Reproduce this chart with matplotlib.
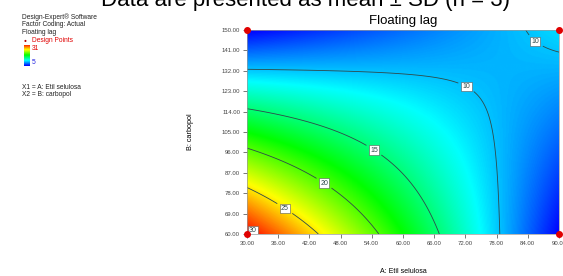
import matplotlib
matplotlib.use("Agg")
import matplotlib.pyplot as plt
import numpy as np
from matplotlib.colors import LinearSegmentedColormap

plt.rcParams["font.family"] = ["Liberation Sans", "DejaVu Sans"]

# factor ranges (A: Etil selulosa, B: carbopol)
a_range = [30.0, 90.0]
b_range = [60.0, 150.0]
x_ticks = [30, 36, 42, 48, 54, 60, 66, 72, 78, 84, 90]
y_ticks = [60, 69, 78, 87, 96, 105, 114, 123, 132, 141, 150]

# 2FI model in actual units: intercept, A, B, AB
model_coefs = [71.51, -0.7785, -0.4619, 0.00581]
contour_levels = [10, 15, 20, 25, 30]
# where the contour labels sit (A, B)
label_positions = [(72.7, 127.1), (85.8, 146.0), (54.8, 98.4),
                   (45.2, 83.8), (37.7, 72.8), (31.5, 62.7)]
design_a = [30, 30, 90, 90]
design_b = [60, 150, 60, 150]
resp_min, resp_max = 5, 31

de_cmap = LinearSegmentedColormap.from_list(
    "de", ["#0000ff", "#00ffff", "#00ff00", "#ffff00", "#ff0000"])


def response(a, b):
    b0, b1, b2, b12 = model_coefs
    return b0 + b1 * a + b2 * b + b12 * a * b


fig = plt.figure(figsize=(5.63, 2.76), dpi=100)
ax = fig.add_axes([247 / 563, 1 - 234 / 276, 312 / 563, 204 / 276])

aa, bb = np.meshgrid(np.linspace(*a_range, 300), np.linspace(*b_range, 300))
zz = response(aa, bb)
ax.imshow(zz, origin="lower", extent=a_range + b_range, aspect="auto",
          cmap=de_cmap, vmin=resp_min, vmax=resp_max, interpolation="bilinear")
cs = ax.contour(aa, bb, zz, levels=contour_levels, colors="#2e4a4a",
                linewidths=0.6)
labels = ax.clabel(cs, fmt="%d", fontsize=5, manual=label_positions,
                   inline=True, inline_spacing=5)
for t in labels:
    t.set_rotation(0)
    t.set_bbox(dict(facecolor="white", edgecolor="#555555", linewidth=0.4,
                    pad=0.9))

ax.plot(design_a, design_b, "o", color="#e00000", markersize=4,
        clip_on=False, zorder=10)

ax.set_xlim(a_range)
ax.set_ylim(b_range)
ax.set_xticks(x_ticks)
ax.set_yticks(y_ticks)
ax.set_xticklabels([f"{v:.2f}" for v in x_ticks])
ax.set_yticklabels([f"{v:.2f}" for v in y_ticks])
ax.tick_params(labelsize=4.3, colors="#444444", length=3, width=0.5, pad=2)
for sp in ax.spines.values():
    sp.set_color("#999999")
    sp.set_linewidth(0.5)

ax.set_title("Floating lag", fontsize=9.5, pad=4)
ax.set_xlabel("A: Etil selulosa", fontsize=5, labelpad=16)
ax.set_ylabel("B: carbopol", fontsize=5.2, labelpad=20)

# cut-off caption at the very top
fig.text(305 / 563, 1 - 6 / 276, "Data are presented as mean \u00b1 SD (n = 3)",
         fontsize=16, ha="center", va="baseline")

# Design-Expert info block
info = ["Design-Expert\u00ae Software", "Factor Coding: Actual", "Floating lag"]
for i, line in enumerate(info):
    fig.text(22 / 563, 1 - (17 + 8 * i) / 276, line, fontsize=4.8,
             va="center", color="#222222")
fig.text(25 / 563, 1 - 40 / 276, "\u25cf", fontsize=3.5, va="center",
         ha="center", color="#b00000")
fig.text(32 / 563, 1 - 40 / 276, "Design Points", fontsize=4.8, va="center",
         color="#e00000")
fig.text(32 / 563, 1 - 48 / 276, str(resp_max), fontsize=4.8, va="center",
         color="#e00000")
fig.text(32 / 563, 1 - 63 / 276, str(resp_min), fontsize=4.8, va="center",
         color="#2020e0")
cax = fig.add_axes([24 / 563, 1 - 66 / 276, 6 / 563, 21 / 276])
cax.imshow(np.linspace(0, 1, 50)[:, None], origin="lower", aspect="auto",
           cmap=de_cmap)
cax.axis("off")
fig.text(22 / 563, 1 - 87 / 276, "X1 = A: Etil selulosa", fontsize=4.8,
         va="center", color="#222222")
fig.text(22 / 563, 1 - 94 / 276, "X2 = B: carbopol", fontsize=4.8,
         va="center", color="#222222")

fig.savefig("out.png", dpi=100)
